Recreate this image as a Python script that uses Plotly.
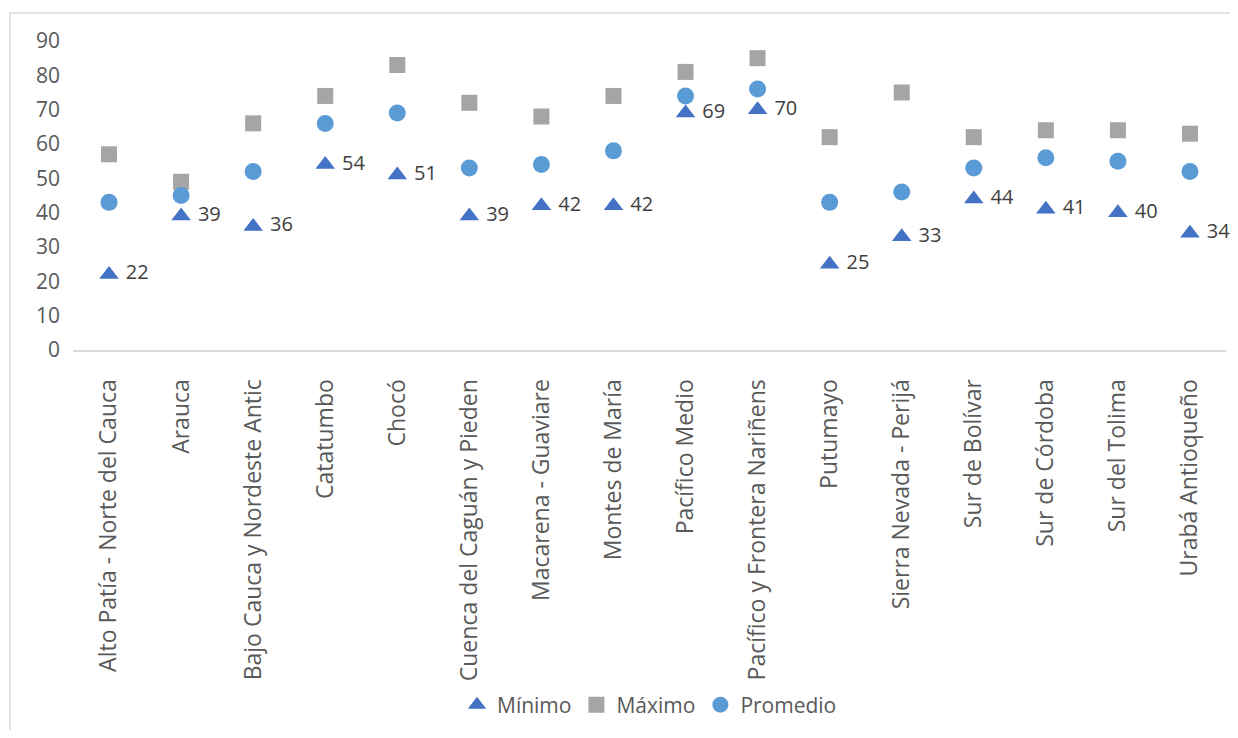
import plotly.graph_objects as go

categorias = [
    "Alto Patía - Norte del Cauca", "Arauca", "Bajo Cauca y Nordeste Antic",
    "Catatumbo", "Chocó", "Cuenca del Caguán y Pieden", "Macarena - Guaviare",
    "Montes de María", "Pacífico Medio", "Pacífico y Frontera Nariñens",
    "Putumayo", "Sierra Nevada - Perijá", "Sur de Bolívar", "Sur de Córdoba",
    "Sur del Tolima", "Urabá Antioqueño",
]
minimo = [22, 39, 36, 54, 51, 39, 42, 42, 69, 70, 25, 33, 44, 41, 40, 34]
maximo = [57, 49, 66, 74, 83, 72, 68, 74, 81, 85, 62, 75, 62, 64, 64, 63]
promedio = [43, 45, 52, 66, 69, 53, 54, 58, 74, 76, 43, 46, 53, 56, 55, 52]
y_ticks = [0, 10, 20, 30, 40, 50, 60, 70, 80, 90]

FONT = "Open Sans"
TXT = "#595959"

fig = go.Figure()
fig.add_trace(go.Scatter(
    x=categorias, y=minimo, name="Mínimo", mode="markers+text",
    marker=dict(symbol="triangle-up", size=17, color="#4472C4"),
    text=[" " + str(v) for v in minimo], textposition="middle right",
    textfont=dict(family=FONT, size=20, color="#404040"),
    cliponaxis=False,
))
fig.add_trace(go.Scatter(
    x=categorias, y=maximo, name="Máximo", mode="markers",
    marker=dict(symbol="square", size=16, color="#A5A5A5"),
    cliponaxis=False,
))
fig.add_trace(go.Scatter(
    x=categorias, y=promedio, name="Promedio", mode="markers",
    marker=dict(symbol="circle", size=17, color="#5B9BD5"),
    cliponaxis=False,
))

fig.update_layout(
    width=1222, height=722,
    margin=dict(l=65, r=4, t=33, b=380),
    paper_bgcolor="white", plot_bgcolor="white",
    font=dict(family=FONT, size=21, color=TXT),
    showlegend=True,
    legend=dict(orientation="h", x=0.5, xanchor="center", y=-1.149, yanchor="middle",
                font=dict(family=FONT, size=21, color=TXT), itemwidth=30),
    xaxis=dict(
        type="category", range=[-0.5, 15.5], tickangle=-90,
        showline=True, linecolor="#d9d9d9", linewidth=2, showgrid=False,
        ticks="", ticklabelstandoff=18, tickfont=dict(family=FONT, size=23, color=TXT),
    ),
    yaxis=dict(
        range=[0, 90], tickvals=y_ticks, showgrid=False, zeroline=False,
        showline=False, ticks="", ticklabelstandoff=12,
        tickfont=dict(family=FONT, size=21, color=TXT),
    ),
    shapes=[dict(
        type="rect", xref="paper", yref="paper",
        x0=-0.0546, x1=1.05, y0=-1.5, y1=1.0906,
        line=dict(color="#e3e3e3", width=2), fillcolor="rgba(0,0,0,0)", layer="below",
    )],
)

fig.write_html("out.html")
